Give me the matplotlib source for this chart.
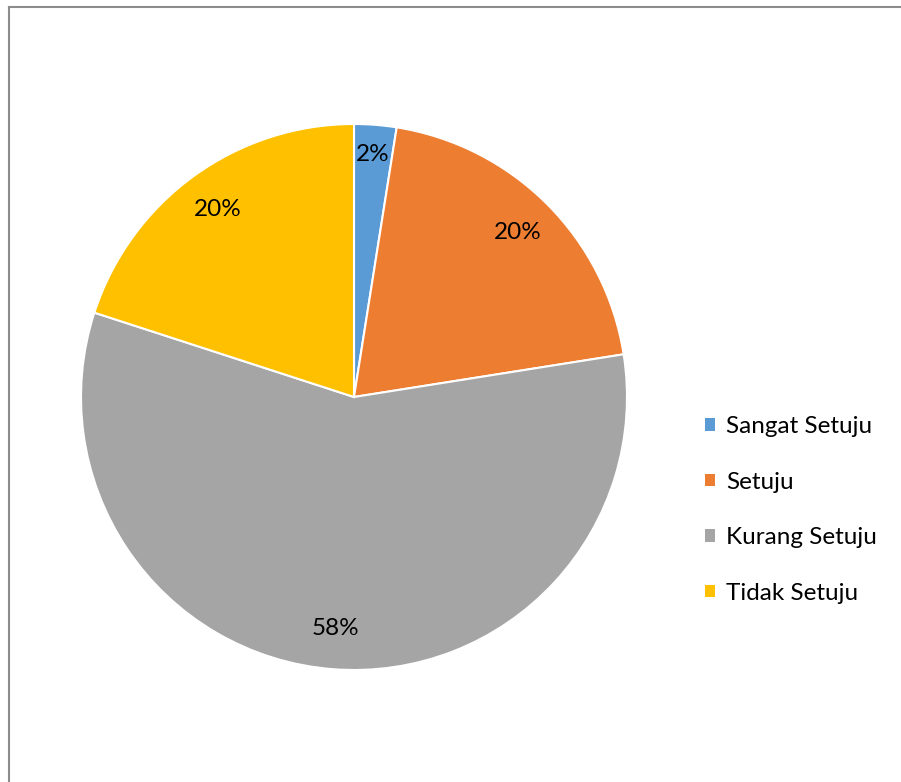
import matplotlib
matplotlib.use("Agg")
import matplotlib.pyplot as plt
import numpy as np
from matplotlib.lines import Line2D
from matplotlib.patches import Patch

categories = ["Sangat Setuju", "Setuju", "Kurang Setuju", "Tidak Setuju"]
values = [2.5, 20, 57.5, 20]
colors = ["#5B9BD5", "#ED7D31", "#A5A5A5", "#FFC000"]

plt.rcParams['font.family'] = ['Lato', 'DejaVu Sans']

W, H = 901, 782
fig = plt.figure(figsize=(W / 100, H / 100), dpi=100)

cx, cy, r = 354, 397, 273
ax = fig.add_axes([(cx - r) / W, 1 - (cy + r) / H, 2 * r / W, 2 * r / H])
wedges, texts, autotexts = ax.pie(
    values, colors=colors, startangle=90, counterclock=False,
    autopct='%.0f%%', pctdistance=0.85, radius=1,
    wedgeprops=dict(edgecolor='white', linewidth=1.5),
    textprops=dict(fontsize=17.5, color='#000000'))
# small slice label sits a bit further out
w0 = wedges[0]
ang = np.deg2rad((w0.theta1 + w0.theta2) / 2)
autotexts[0].set_position((0.89 * np.cos(ang), 0.89 * np.sin(ang)))
ax.set_xlim(-1, 1)
ax.set_ylim(-1, 1)
ax.axis('off')

# outer chart border (left and top visible)
bx, by = 8.5 / W, 1 - 6.5 / H
fig.add_artist(Line2D([bx, bx], [0, by], transform=fig.transFigure, color='#8C8C8C', lw=1.5))
fig.add_artist(Line2D([bx, 1], [by, by], transform=fig.transFigure, color='#8C8C8C', lw=1.5))

handles = [Patch(facecolor=c, edgecolor='none') for c in colors]
fig.legend(handles, categories, loc='center left',
           bbox_to_anchor=(705 / W, 1 - 510 / H), frameon=False,
           fontsize=17.5, handlelength=0.42, handleheight=0.42,
           handletextpad=0.45, labelspacing=1.42, borderpad=0,
           borderaxespad=0)

fig.savefig("out.png", dpi=100)
